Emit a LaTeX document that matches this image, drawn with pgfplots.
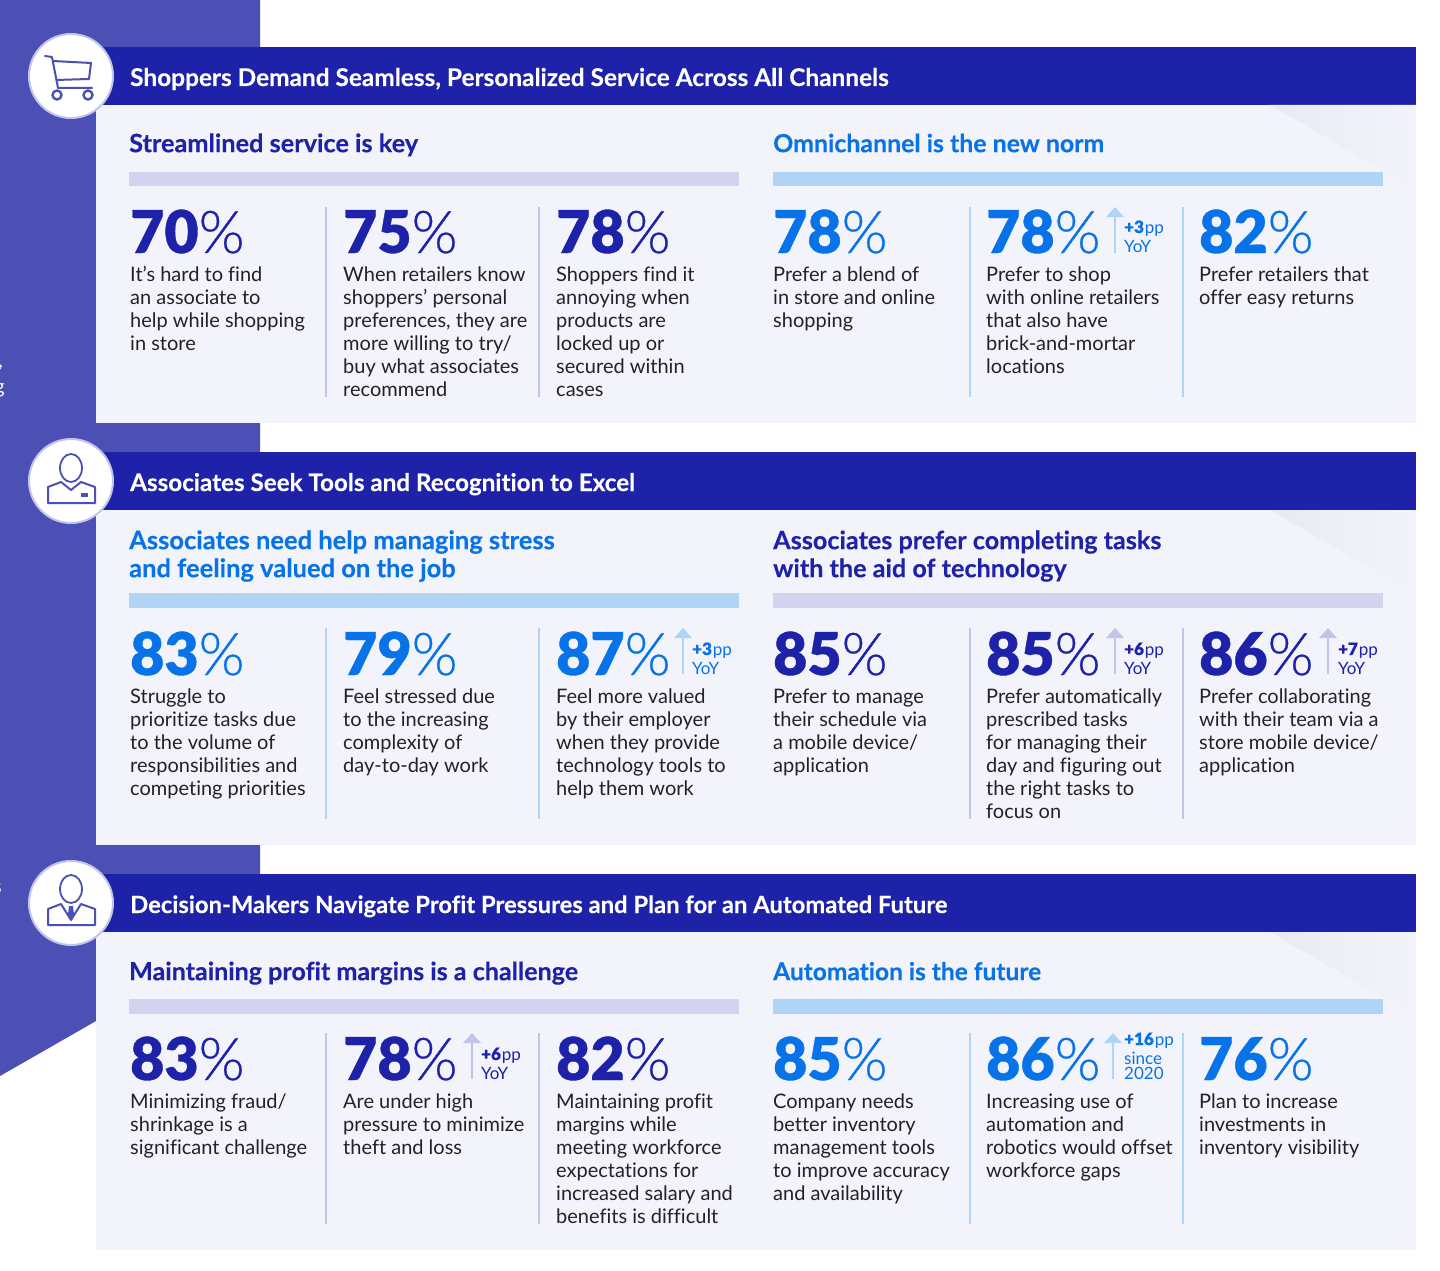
\documentclass[border=0pt]{standalone}
\usepackage{fontspec}
\usepackage{pgfplots}
\pgfplotsset{compat=1.18}
\setmainfont{Lato}[Ligatures=NoCommon]
\newfontfamily\numfont[UprightFont=* Black,FakeBold=0.6,Ligatures=NoCommon]{Lato}
\newfontfamily\lightfont[UprightFont=* Light,FakeBold=0.5]{Lato}
\newfontfamily\boldfont[UprightFont=* Bold,FakeBold=0.25,Ligatures=NoCommon]{Lato}
\definecolor{side}{HTML}{4C4FB4}
\definecolor{navy}{HTML}{1E22A8}
\definecolor{panel}{HTML}{F3F4FB}
\definecolor{corner}{HTML}{E9E9F2}
\definecolor{lil}{HTML}{D2D3EF}
\definecolor{lilb}{HTML}{C2C4E9}
\definecolor{sky}{HTML}{B0D4F6}
\definecolor{azure}{HTML}{0873E8}
\definecolor{body}{HTML}{222226}
\newcommand{\rect}[5]{\addplot[fill=#5,draw=none] coordinates {(#1,#2)(#3,#2)(#3,#4)(#1,#4)} --cycle;}
\newcommand{\stat}[4]{\addplot[draw=none,mark=none,point meta=explicit symbolic,nodes near coords={{\numfont\pgfplotspointmeta}{\lightfont\%}},every node near coord/.style={anchor=base west,inner sep=0pt,font=\fontsize{59}{60}\selectfont,text=#4}] coordinates {(#1,#2) [#3]};}
\newcommand{\body}[3]{\node[anchor=north west,inner sep=0pt,align=left,text=body,font=\fontsize{20}{23}\selectfont] at (#1,#2-16.1) {\strut #3};}
\newcommand{\sub}[5][25.2]{\node[anchor=north west,inner sep=0pt,align=left,text=#5,font=\boldfont\fontsize{#1}{28}\selectfont] at (#2,#3-19.6) {\strut #4};}
\newcommand{\head}[3][24.4]{\node[anchor=base west,inner sep=0pt,text=white,font=\boldfont\fontsize{#1}{26}\selectfont] at (130,#2) {#3};}
\newcommand{\panelbox}[2]{\rect{96}{#1}{1416}{#2}{panel}\rect{96}{#1-58}{1416}{#1}{navy}
 \shade[left color=corner,right color=panel,draw=none] (1270,#1)--(1416,#1+84)--(1416,#1)--cycle;}
\newcommand{\up}[3]{\rect{#1-1.3}{#2+9}{#1+1.3}{#2+46}{#3}\addplot[fill=#3,draw=none] coordinates {(#1-9,#2+10)(#1,#2)(#1+9,#2+10)} --cycle;}
\newcommand{\pp}[5]{\node[anchor=base west,inner sep=0pt,text=#5,font=\fontsize{17}{19}\selectfont] at (#1,#2) {{\numfont #3}{\kern1pt pp}};
 \node[anchor=base west,inner sep=0pt,text=#5,font=\fontsize{17}{19}\selectfont] at (#1,#2+19) {#4};}
\begin{document}
\begin{tikzpicture}
\begin{axis}[scale only axis,width=1440pt,height=1271pt,xmin=0,xmax=1440,ymin=0,ymax=1271,y dir=reverse,hide axis,clip=false]
\rect{0}{0}{1440}{1271}{white}
% side band
\addplot[fill=side,draw=none] coordinates {(0,0)(260,0)(260,900)(96,900)(96,1021)(0,1076)} --cycle;
\node[overlay,anchor=base east,inner sep=0pt,text=white,font=\fontsize{20}{23}\selectfont] at (3,367) {r,};
\node[overlay,anchor=base east,inner sep=0pt,text=white,font=\fontsize{20}{23}\selectfont] at (5,393) {ng};
\node[overlay,anchor=base east,inner sep=0pt,text=white,font=\fontsize{20}{23}\selectfont] at (2,893) {s};
% section 1
\panelbox{105}{423}
\head{86}{Shoppers Demand Seamless, Personalized Service Across All Channels}
\sub[25.3]{129}{152}{Streamlined service is key}{navy}
\sub[24.9]{773}{152}{Omnichannel is the new norm}{azure}
\rect{129}{172}{739}{186}{lil}
\rect{773}{172}{1383}{186}{sky}
\rect{325}{207}{327}{397}{lilb}\rect{538}{207}{540}{397}{lilb}
\rect{968.5}{207}{970.5}{397}{sky}\rect{1181.5}{207}{1183.5}{397}{sky}
\stat{130}{253}{70}{navy}\stat{343}{253}{75}{navy}\stat{556}{253}{78}{navy}
\stat{773}{253}{78}{azure}\stat{986}{253}{78}{azure}\stat{1199}{253}{82}{azure}
\body{130}{281}{It’s hard to find\\an associate to\\help while shopping\\in store}
\body{343}{281}{When retailers know\\shoppers’ personal\\preferences, they are\\more willing to try/\\buy what associates\\recommend}
\body{556}{281}{Shoppers find it\\annoying when\\products are\\locked up or\\secured within\\cases}
\body{773}{281}{Prefer a blend of\\in store and online\\shopping}
\body{986}{281}{Prefer to shop\\with online retailers\\that also have\\brick-and-mortar\\locations}
\body{1199}{281}{Prefer retailers that\\offer easy returns}
\up{1115}{207}{sky}
\pp{1124}{233}{+3}{YoY}{azure}
% section 2
\panelbox{510}{845}
\head[24.2]{491}{Associates Seek Tools and Recognition to Excel}
\sub[25.5]{129}{549}{Associates need help managing stress\\and feeling valued on the job}{azure}
\sub{773}{549}{Associates prefer completing tasks\\with the aid of technology}{navy}
\rect{129}{593}{739}{608}{sky}
\rect{773}{593}{1383}{608}{lil}
\rect{325}{628}{327}{819}{sky}\rect{538}{628}{540}{819}{sky}
\rect{968.5}{628}{970.5}{819}{lilb}\rect{1181.5}{628}{1183.5}{819}{lilb}
\stat{130}{675}{83}{azure}\stat{343}{675}{79}{azure}\stat{556}{675}{87}{azure}
\stat{773}{675}{85}{navy}\stat{986}{675}{85}{navy}\stat{1199}{675}{86}{navy}
\body{130}{703}{Struggle to\\prioritize tasks due\\to the volume of\\responsibilities and\\competing priorities}
\body{343}{703}{Feel stressed due\\to the increasing\\complexity of\\day-to-day work}
\body{556}{703}{Feel more valued\\by their employer\\when they provide\\technology tools to\\help them work}
\body{773}{703}{Prefer to manage\\their schedule via\\a mobile device/\\application}
\body{986}{703}{Prefer automatically\\prescribed tasks\\for managing their\\day and figuring out\\the right tasks to\\focus on}
\body{1199}{703}{Prefer collaborating\\with their team via a\\store mobile device/\\application}
\up{683}{628}{sky}\pp{692}{655}{+3}{YoY}{azure}
\up{1115}{628}{lilb}\pp{1124}{655}{+6}{YoY}{navy}
\up{1328}{628}{lilb}\pp{1338}{655}{+7}{YoY}{navy}
% section 3
\panelbox{932}{1250}
\head[23.8]{913}{Decision-Makers Navigate Profit Pressures and Plan for an Automated Future}
\sub[25.1]{129}{980}{Maintaining profit margins is a challenge}{navy}
\sub[24.5]{773}{980}{Automation is the future}{azure}
\rect{129}{999}{739}{1014}{lil}
\rect{773}{999}{1383}{1014}{sky}
\rect{325}{1033}{327}{1224}{lilb}\rect{538}{1033}{540}{1224}{lilb}
\rect{968.5}{1033}{970.5}{1224}{sky}\rect{1181.5}{1033}{1183.5}{1224}{sky}
\stat{130}{1080}{83}{navy}\stat{343}{1080}{78}{navy}\stat{556}{1080}{82}{navy}
\stat{773}{1080}{85}{azure}\stat{986}{1080}{86}{azure}\stat{1199}{1080}{76}{azure}
\body{130}{1108}{Minimizing fraud/\\shrinkage is a\\significant challenge}
\body{343}{1108}{Are under high\\pressure to minimize\\theft and loss}
\body{556}{1108}{Maintaining profit\\margins while\\meeting workforce\\expectations for\\increased salary and\\benefits is difficult}
\body{773}{1108}{Company needs\\better inventory\\management tools\\to improve accuracy\\and availability}
\body{986}{1108}{Increasing use of\\automation and\\robotics would offset\\workforce gaps}
\body{1199}{1108}{Plan to increase\\investments in\\inventory visibility}
\up{472}{1033}{lilb}\pp{481}{1060}{+6}{YoY}{navy}
\up{1113}{1033}{sky}
\pp{1124}{1045}{+16}{since}{azure}
\node[anchor=base west,inner sep=0pt,text=azure,font=\fontsize{17}{19}\selectfont] at (1124,1079) {2020};
% icon circles
\fill[white,draw=lilb,line width=2pt] (71,76) circle[radius=42];
\fill[white,draw=lilb,line width=2pt] (71,481) circle[radius=42];
\fill[white,draw=lilb,line width=2pt] (71,903) circle[radius=42];
% cart
\draw[side,line width=2pt,line join=round,line cap=round] (45,56)--(52,57)--(58,88)--(92,88);
\draw[side,line width=2pt,line join=round] (53,61)--(91,63)--(89,79)--(56,80);
\draw[side,line width=2.4pt] (57,95) circle[radius=4.5] (88,95) circle[radius=4.5];
% associate
\draw[side,line width=1.8pt] (71,468) ellipse[x radius=11,y radius=14];
\draw[side,line width=2pt,line join=round] (48,503)--(48,487)--(61,482)--(71,490)--(81,482)--(95,487)--(95,503)--cycle;
\fill[side] (81,493) rectangle (88,497);
% decision maker
\draw[side,line width=1.8pt] (71,889) ellipse[x radius=11,y radius=14];
\draw[side,line width=2pt,line join=round] (48,925)--(48,909)--(61,904)--(71,920)--(81,904)--(95,909)--(95,925)--cycle;
\fill[side] (69,906)--(73,906)--(74,914)--(71,920)--(68,914)--cycle;
\end{axis}
\end{tikzpicture}
\end{document}
